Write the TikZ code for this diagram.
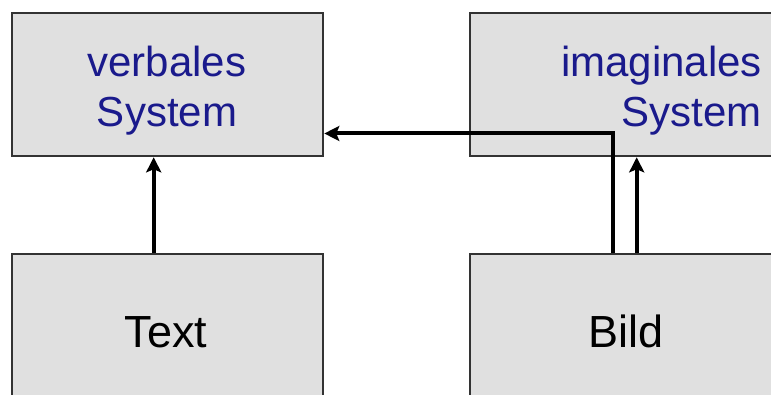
\documentclass[tikz,border=0pt]{standalone}
\usepackage{fontspec}
\setmainfont{Liberation Sans}
\usetikzlibrary{arrows.meta}
\definecolor{boxfill}{HTML}{E0E0E0}
\definecolor{boxline}{HTML}{333333}
\definecolor{labelblue}{HTML}{1A1A8C}
\tikzset{
  sysbox/.style={rectangle, draw=boxline, fill=boxfill, line width=2.6pt,
    minimum width=311pt, minimum height=143pt, inner sep=0pt},
  toplabel/.style={text=labelblue, font=\fontsize{42}{50}\selectfont, inner sep=0pt},
  botlabel/.style={text=black, font=\fontsize{45}{54}\selectfont, inner sep=0pt, anchor=base},
  flow/.style={line width=4pt, -{Stealth[length=15pt,width=15pt,inset=3pt]}}
}
\begin{document}
\begin{tikzpicture}[x=1pt,y=1pt]
\useasboundingbox (0,0) rectangle (771,394);
\clip (0,0) rectangle (771,394);
\fill[white] (0,0) rectangle (771,394);
\node[sysbox] (vs) at (167.5,309.5) {};
\node[sysbox] (is) at (625.5,309.5) {};
\node[sysbox] (txt) at (167.5,68.5) {};
\node[sysbox] (bild) at (625.5,68.5) {};
\node[toplabel, align=center, anchor=base] (vsl) at (167,267) {verbales\\System};
\node[toplabel, align=right, anchor=base east] (isl) at (762,267) {imaginales\\System};
\node[botlabel] (txtl) at (166,47) {Text};
\node[botlabel] (bildl) at (626,47) {Bild};
\draw[flow] ([xshift=143pt]txt.north west) -- ([xshift=143pt]vs.south west);
\draw[flow] ([xshift=144pt]bild.north west) |- ([yshift=-49pt]vs.east);
\draw[flow] ([xshift=168pt]bild.north west) -- ([xshift=168pt]is.south west);
\end{tikzpicture}
\end{document}
